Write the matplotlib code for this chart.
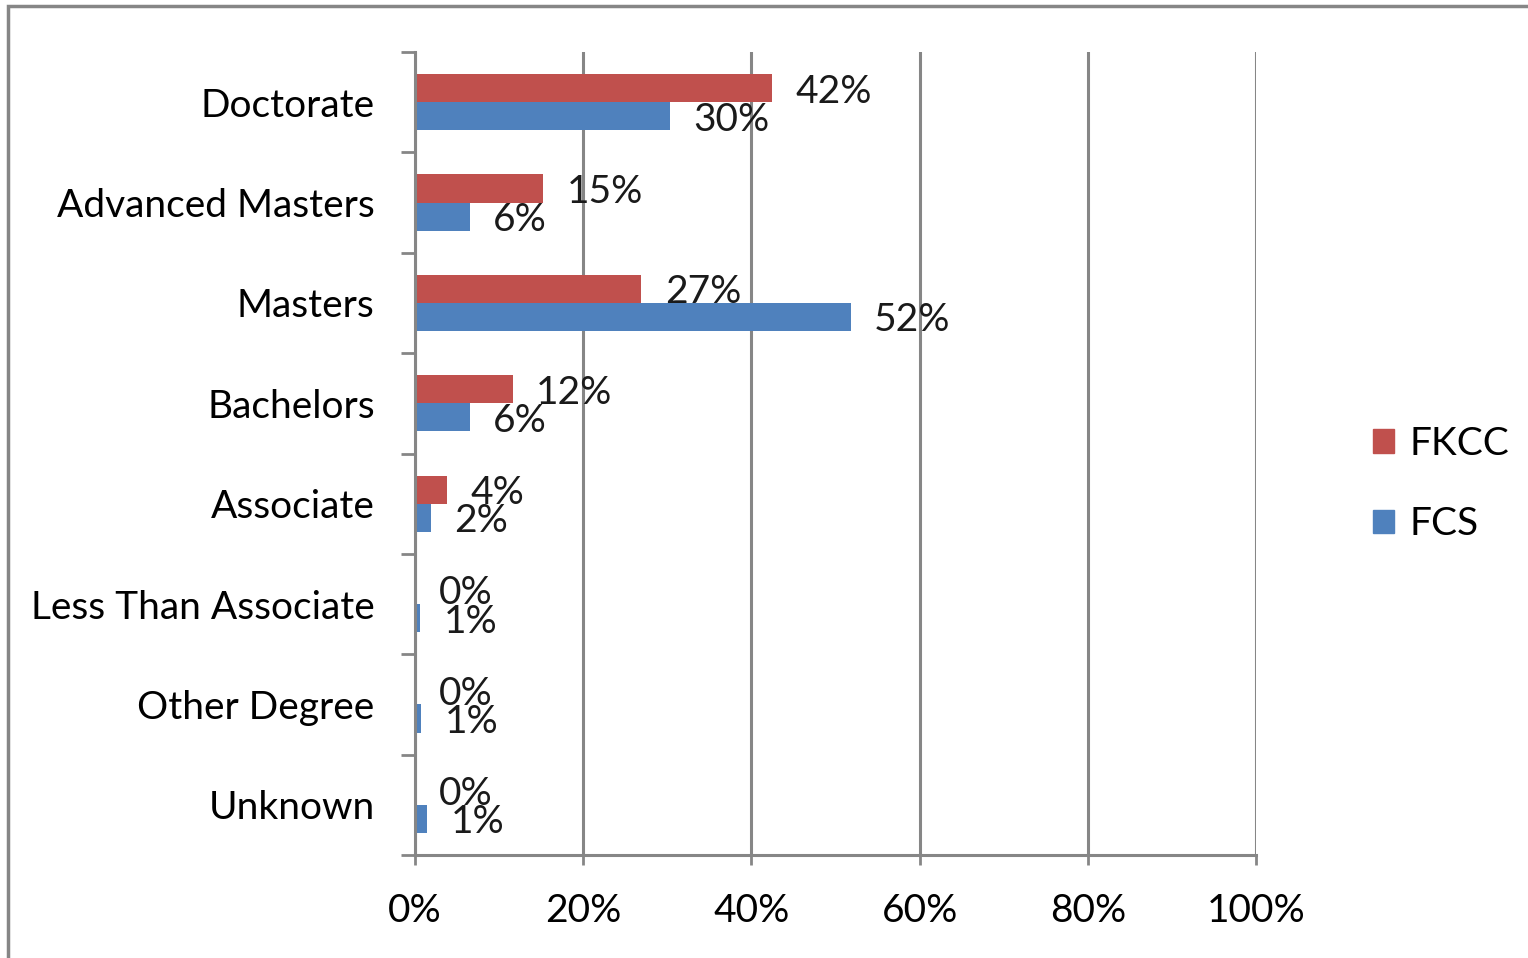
import matplotlib
matplotlib.use("Agg")
import matplotlib.pyplot as plt
from matplotlib.patches import Rectangle, Patch
import numpy as np

plt.rcParams['font.family'] = ['Lato', 'DejaVu Sans']

categories = ["Doctorate", "Advanced Masters", "Masters", "Bachelors",
              "Associate", "Less Than Associate", "Other Degree", "Unknown"]
fkcc = [42.4, 15.2, 26.9, 11.6, 3.8, 0.0, 0.0, 0.0]
fcs = [30.3, 6.5, 51.8, 6.5, 1.9, 0.6, 0.7, 1.4]
series_names = ["FKCC", "FCS"]
xticks = [0, 20, 40, 60, 80, 100]
xtick_labels = ["0%", "20%", "40%", "60%", "80%", "100%"]

RED = "#C0504D"
BLUE = "#4F81BD"
GRAY = "#868686"
FS = 28

fig = plt.figure(figsize=(15.28, 9.58), dpi=100)
ax = fig.add_axes([415/1528, 103/958, 841/1528, 803/958])

y = np.arange(len(categories))
h = 0.28
ax.barh(y - h/2, fkcc, height=h, color=RED, zorder=3)
ax.barh(y + h/2, fcs, height=h, color=BLUE, zorder=3)

for yi, v in zip(y, fkcc):
    ax.annotate(f"{v:.0f}%", (v, yi - h/2), xytext=(17, -2.5), textcoords="offset points",
                ha="left", va="center", fontsize=FS, color="#1a1a1a", zorder=4)
for yi, v in zip(y, fcs):
    ax.annotate(f"{v:.0f}%", (v, yi + h/2), xytext=(17, -2.5), textcoords="offset points",
                ha="left", va="center", fontsize=FS, color="#1a1a1a", zorder=4)

ax.set_xlim(0, 100)
ax.set_ylim(len(categories) - 0.5, -0.5)
ax.set_xticks(xticks)
ax.set_xticklabels(xtick_labels, fontsize=FS)
ax.set_yticks(y)
ax.set_yticklabels(categories, fontsize=FS)
ax.set_yticks(np.arange(-0.5, len(categories) + 0.5, 1), minor=True)

ax.tick_params(axis='y', which='major', length=0, pad=29)
ax.tick_params(axis='y', which='minor', length=10, width=2, color=GRAY, direction='out')
ax.tick_params(axis='x', which='major', length=7, width=2, color=GRAY, direction='out', pad=20)

ax.xaxis.grid(True, color=GRAY, linewidth=2.2, zorder=1)
ax.set_axisbelow(True)
for s in ["top", "right"]:
    ax.spines[s].set_visible(False)
for s in ["left", "bottom"]:
    ax.spines[s].set_color(GRAY)
    ax.spines[s].set_linewidth(2.2)
    ax.spines[s].set_zorder(5)

handles = [Patch(color=RED, label=series_names[0]), Patch(color=BLUE, label=series_names[1])]
fig.legend(handles=handles, loc="center left", bbox_to_anchor=(1338/1528, 1 - 484/958),
           frameon=False, fontsize=FS, handlelength=0.55, handleheight=0.55,
           handletextpad=0.4, labelspacing=1.15)

fig.add_artist(Rectangle((8/1528, -0.05), 1.2, 1.05 - 6/958, transform=fig.transFigure,
                         fill=False, edgecolor=GRAY, linewidth=2.5))

fig.savefig("out.png", dpi=100, facecolor="white")
